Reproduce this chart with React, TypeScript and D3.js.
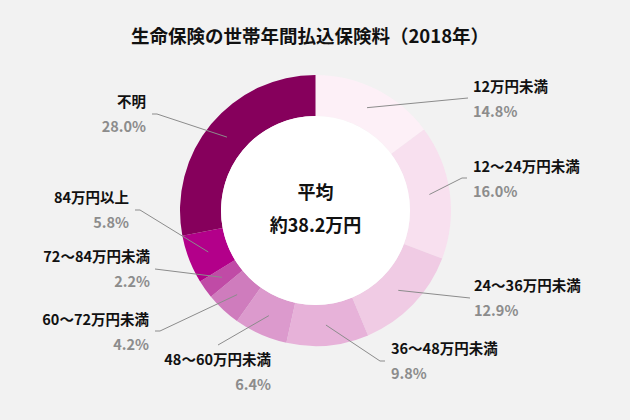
import React from 'react';
import * as d3 from 'd3';

const categories = [
  '12万円未満',
  '12～24万円未満',
  '24～36万円未満',
  '36～48万円未満',
  '48～60万円未満',
  '60～72万円未満',
  '72～84万円未満',
  '84万円以上',
  '不明',
];
const shares = [14.8, 16.0, 12.9, 9.8, 6.4, 4.2, 2.2, 5.8, 28.0];
const colors = ['#fdf0f7', '#f8e0ef', '#f0cbe4', '#e7b2d9', '#dc9acd', '#cf7cbd', '#c04ba6', '#b3008a', '#86005c'];

const title = '生命保険の世帯年間払込保険料（2018年）';
const centerLines = ['平均', '約38.2万円'];

// label placement: text x, name baseline, anchor, leader end (and optional elbow)
const labelLayout: { x: number; y: number; anchor: 'start' | 'end'; end: [number, number]; elbow?: [number, number] }[] = [
  { x: 473, y: 92, anchor: 'start', end: [468, 98] },
  { x: 473, y: 172, anchor: 'start', end: [467, 178], elbow: [462, 178] },
  { x: 474, y: 291, anchor: 'start', end: [470, 298] },
  { x: 391, y: 354, anchor: 'start', end: [385, 361], elbow: [380, 361] },
  { x: 271, y: 365, anchor: 'end', end: [218, 345] },
  { x: 149, y: 325, anchor: 'end', end: [155, 331], elbow: [160, 331] },
  { x: 150, y: 262, anchor: 'end', end: [155, 269] },
  { x: 129, y: 203, anchor: 'end', end: [135, 210], elbow: [140, 210] },
  { x: 146, y: 107, anchor: 'end', end: [152, 114], elbow: [157, 114] },
];

const W = 630;
const H = 420;
const cx = 315.5;
const cy = 210.5;
const outerR = 135.5;
const innerR = 94.5;
const font = '"Noto Sans CJK JP", "Noto Sans", sans-serif';

export default function App() {
  const pie = d3.pie<number>().sort(null).value(d => d);
  const arcs = pie(shares);
  const arc = d3.arc<d3.PieArcDatum<number>>().innerRadius(innerR).outerRadius(outerR);

  return (
    <svg width={W} height={H} style={{ display: 'block', position: 'absolute', left: 0, top: 0 }}>
      <rect width={W} height={H} fill="#f2f2f2" />
      <text x={310} y={43} textAnchor="middle" fontFamily={font} fontWeight="bold" fontSize={18.5} fill="#111">
        {title}
      </text>
      <g transform={`translate(${cx},${cy})`}>
        {arcs.map((a, i) => (
          <path key={i} d={arc(a) || ''} fill={colors[i]} />
        ))}
        <circle r={innerR} fill="#fff" />
        <text y={-12} textAnchor="middle" fontFamily={font} fontWeight="bold" fontSize={18} fill="#111">
          {centerLines[0]}
        </text>
        <text y={21} textAnchor="middle" fontFamily={font} fontWeight="bold" fontSize={18} fill="#111">
          {centerLines[1]}
        </text>
      </g>
      {arcs.map((a, i) => {
        const [px, py] = arc.centroid(a);
        const L = labelLayout[i];
        const pts: [number, number][] = [[cx + px, cy + py]];
        if (L.elbow) pts.push(L.elbow);
        pts.push(L.end);
        return (
          <g key={i}>
            <polyline points={pts.map(p => p.join(',')).join(' ')} fill="none" stroke="#8c8c8c" strokeWidth={1} />
            <text x={L.x} y={L.y} textAnchor={L.anchor} fontFamily={font} fontWeight="bold" fontSize={14.5} fill="#111">
              {categories[i]}
            </text>
            <text x={L.x} y={L.y + 25} textAnchor={L.anchor} fontFamily={font} fontWeight="bold" fontSize={14.5} fill="#8c8c8c">
              {shares[i].toFixed(1)}%
            </text>
          </g>
        );
      })}
    </svg>
  );
}
